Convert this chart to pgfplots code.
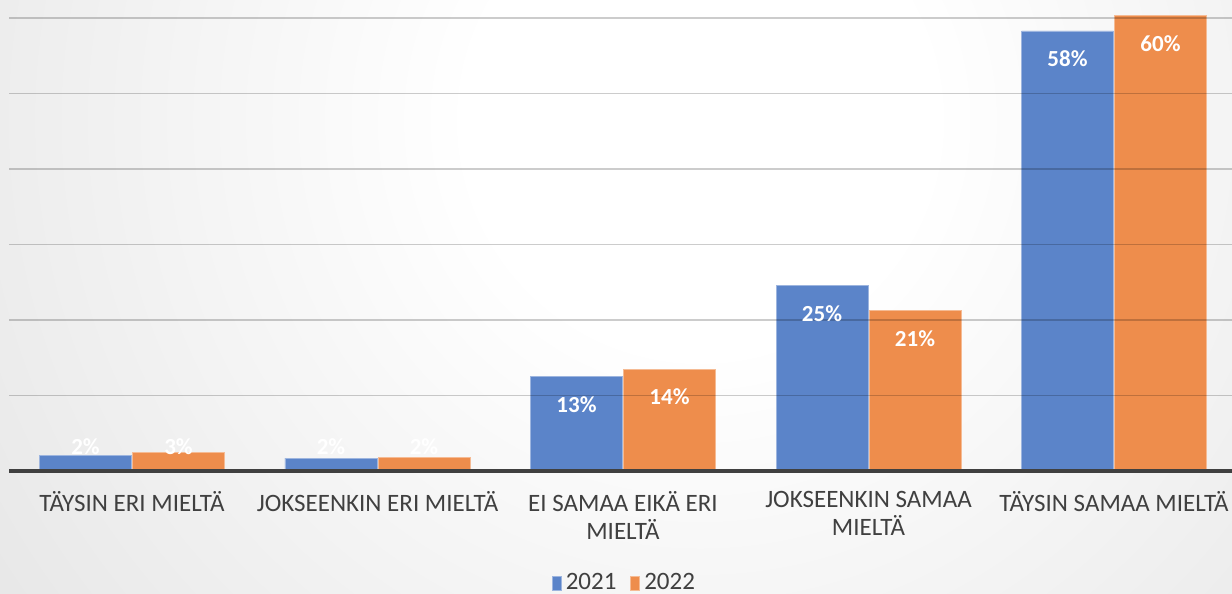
\documentclass[border=0pt]{standalone}
\usepackage{pgfplots}
\pgfplotsset{compat=1.18}
\usepackage{pgfplotstable}
\usepackage{fontspec}
\setmainfont{Carlito}
\definecolor{cblue}{RGB}{91,132,201}
\definecolor{corange}{RGB}{238,141,76}
\definecolor{txt}{RGB}{64,64,64}
\pgfdeclareradialshading{bgshade}{\pgfpoint{0bp}{0bp}}{color(0bp)=(white); color(4bp)=(white); color(25bp)=(black!18); color(50bp)=(black!18)}
\pgfplotstableread{
x a la da b lb db
0 2.1 2\% 4.1 2.4 3\% 2.9
1 1.7 2\% 5.6 1.85 2\% 5.0
2 12.5 13\% -14 13.5 14\% -14
3 24.6 25\% -14 21.3 21\% -14
4 58.3 58\% -14 60.3 60\% -14
}\data
\begin{document}
\begin{tikzpicture}
\begin{scope}
\clip (0,0) rectangle (616pt,297pt);
\shade[shading=bgshade] (-370pt,-483pt) rectangle (1070pt,957pt);
\begin{axis}[
  at={(4.625pt,61.5pt)}, anchor=south west,
  scale only axis, width=613.75pt, height=235.5pt,
  xmin=-0.5, xmax=4.5, ymin=0, ymax=62.4,
  axis lines*=left,
  y axis line style={draw=none},
  x axis line style={line width=2pt, color=txt},
  ytick={10,20,...,60}, ymajorgrids=true, xmajorgrids=false,
  grid style={black, opacity=0.2, line width=0.7pt},
  yticklabels={},
  xtick={0,1,2,3,4},
  tick style={draw=none},
  xticklabels={{TÄYSIN ERI MIELTÄ},{JOKSEENKIN ERI MIELTÄ},{EI SAMAA EIKÄ ERI\\MIELTÄ},{JOKSEENKIN SAMAA\\MIELTÄ},{TÄYSIN SAMAA MIELTÄ}},
  xticklabel style={align=center, font=\fontsize{12.5}{14}\selectfont, text=txt, yshift=-6.5pt},
  major tick length=0pt,
  ybar=0.5pt, bar width=46pt,
  clip=false,
  axis on top,
  point meta=explicit symbolic,
  nodes near coords,
  every node near coord/.append style={anchor=center, text=white, font=\fontsize{11.5}{13}\selectfont\bfseries, yshift=\dy pt},
  legend columns=2,
  legend style={at={(0.502,-0.238)}, anchor=center, draw=none, fill=none, font=\fontsize{12.5}{13}\selectfont, text=txt, /tikz/every even column/.append style={column sep=5pt}},
  legend image code/.code={\fill[#1] (0pt,-3.5pt) rectangle (4.5pt,3.5pt);},
]
\addplot[fill=cblue, draw=cblue!60!white, visualization depends on={\thisrow{da} \as \dy}] table[x=x, y=a, meta=la] {\data};
\addplot[fill=corange, draw=corange!60!white, visualization depends on={\thisrow{db} \as \dy}] table[x=x, y=b, meta=lb] {\data};
\legend{2021,2022}
\end{axis}
\end{scope}
\pgfresetboundingbox
\useasboundingbox (0,0) rectangle (616pt,297pt);
\end{tikzpicture}
\end{document}
